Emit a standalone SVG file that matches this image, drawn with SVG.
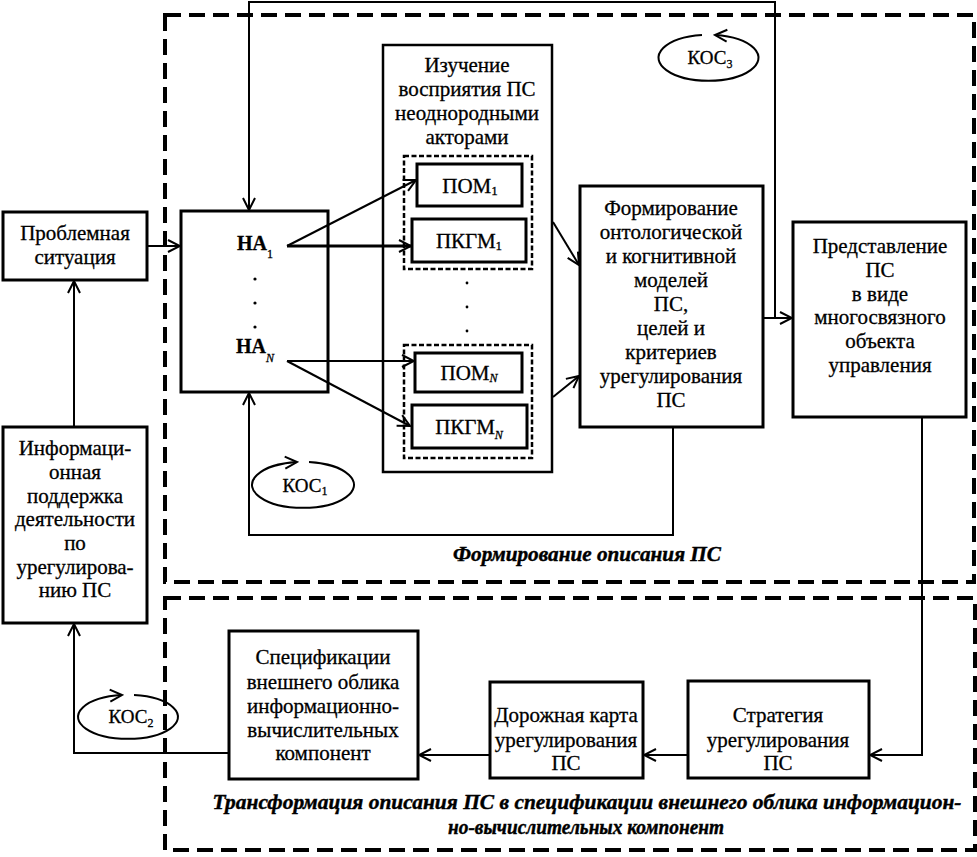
<svg xmlns="http://www.w3.org/2000/svg" width="977" height="857" viewBox="0 0 977 857">
<style>
.box{fill:#fff;stroke:#000;stroke-width:3}
.t{font-family:'Liberation Serif','Times New Roman','DejaVu Serif',Times,serif;font-size:21px;text-anchor:middle;fill:#000;stroke:#000;stroke-width:0.3}
.k{font-family:'Liberation Serif','Times New Roman','DejaVu Serif',Times,serif;font-size:19px;text-anchor:middle;fill:#000;stroke:#000;stroke-width:0.3}
.ti{font-family:'Liberation Serif','Times New Roman','DejaVu Serif',Times,serif;font-size:20px;font-weight:bold;font-style:italic;text-anchor:middle;fill:#000;stroke:#000;stroke-width:0.4}
.c{fill:none;stroke:#000;stroke-width:2}
.dash{fill:none;stroke:#000;stroke-width:4;stroke-dasharray:16 8}
.idash{fill:none;stroke:#000;stroke-width:2.5;stroke-dasharray:5 2.5}
</style>
<defs>
<marker id="a" markerUnits="userSpaceOnUse" markerWidth="16" markerHeight="16" viewBox="0 0 16 16" refX="14" refY="8" orient="auto">
<path d="M2,2 L14,8 L2,14" fill="none" stroke="#000" stroke-width="2"/>
</marker>
</defs>
<rect width="977" height="857" fill="#fff"/>
<g id="frames">
<rect class="dash" x="165" y="15" width="809" height="567"/>
<rect class="dash" x="165" y="598" width="810" height="252"/>
</g>
<g id="study">
<rect class="box" style="stroke-width:2.5" x="383" y="45" width="169" height="427"/>
<text class="t" x="467" y="72">Изучение</text>
<text class="t" x="467" y="96">восприятия ПС</text>
<text class="t" x="467" y="120">неоднородными</text>
<text class="t" x="467" y="144">акторами</text>
<rect class="idash" x="404" y="156" width="128" height="113"/>
<rect class="idash" x="404" y="345" width="128" height="113"/>
<circle cx="467" cy="283" r="1.4"/>
<circle cx="467" cy="307" r="1.4"/>
<circle cx="467" cy="331" r="1.4"/>
</g>
<g id="connectors">
<path class="c" d="M147,246 H180" marker-end="url(#a)"/>
<path class="c" d="M775,318 V2 H249 V210" marker-end="url(#a)"/>
<path class="c" d="M673,427 V535 H249 V393" marker-end="url(#a)"/>
<path class="c" d="M287,246 L416,180" marker-end="url(#a)"/>
<path class="c" style="stroke-width:3" d="M287,246 H411" marker-end="url(#a)"/>
<path class="c" d="M287,361 H414" marker-end="url(#a)"/>
<path class="c" d="M287,361 L410,426" marker-end="url(#a)"/>
<path class="c" d="M553,222 L579,265" marker-end="url(#a)"/>
<path class="c" d="M553,397 L579,376" marker-end="url(#a)"/>
<path class="c" d="M763,318 H792" marker-end="url(#a)"/>
<path class="c" d="M922,417 V755 H870" marker-end="url(#a)"/>
<path class="c" d="M688,755 H644" marker-end="url(#a)"/>
<path class="c" d="M490,755 H419" marker-end="url(#a)"/>
<path class="c" d="M229,753 H74 V624" marker-end="url(#a)"/>
<path class="c" d="M74,427 V281" marker-end="url(#a)"/>
<path class="c" d="M309,462 A51,23 0 1 1 297,462" marker-end="url(#a)"/>
<path class="c" d="M702,35 A50,23 0 1 0 715,35" marker-end="url(#a)"/>
<path class="c" d="M134,695 A50,22 0 1 1 122,695" marker-end="url(#a)"/>
</g>
<g id="koc">
<text class="k" x="305" y="492">КОС<tspan font-size="12" dy="3">1</tspan></text>
<text class="k" x="710" y="64">КОС<tspan font-size="12" dy="4">3</tspan></text>
<text class="k" x="131" y="723">КОС<tspan font-size="12" dy="4">2</tspan></text>
</g>
<g id="problem">
<rect class="box" x="3" y="212" width="144" height="68"/>
<text class="t" x="75" y="240">Проблемная</text>
<text class="t" x="75" y="264">ситуация</text>
</g>
<g id="info">
<rect class="box" x="3" y="427" width="144" height="196"/>
<text class="t" x="75" y="455">Информаци-</text>
<text class="t" x="75" y="479">онная</text>
<text class="t" x="75" y="503">поддержка</text>
<text class="t" x="75" y="526">деятельности</text>
<text class="t" x="75" y="550">по</text>
<text class="t" x="75" y="574">урегулирова-</text>
<text class="t" x="75" y="597">нию ПС</text>
</g>
<g id="na">
<rect class="box" x="181" y="211" width="147" height="181" style="fill:none"/>
<text class="t" style="text-anchor:start;font-weight:bold;font-size:20px" x="237" y="250">НА<tspan font-size="12" font-weight="normal" dy="8">1</tspan></text>
<text class="t" style="text-anchor:start;font-weight:bold;font-size:20px" x="236" y="353">НА<tspan font-size="12" font-weight="normal" font-style="italic" dy="9">N</tspan></text>
<circle cx="255" cy="279" r="1.6"/>
<circle cx="255" cy="303" r="1.6"/>
<circle cx="255" cy="327" r="1.6"/>
</g>
<g id="pom1">
<rect class="box" x="417" y="164" width="105" height="42"/>
<text class="t" x="470" y="193">ПОМ<tspan font-size="13" dy="2">1</tspan></text>
</g>
<g id="pkgm1">
<rect class="box" x="412" y="219" width="114" height="43"/>
<text class="t" x="469" y="248">ПКГМ<tspan font-size="13" dy="2">1</tspan></text>
</g>
<g id="pomN">
<rect class="box" x="415" y="353" width="107" height="39"/>
<text class="t" x="469" y="380">ПОМ<tspan font-size="12" font-style="italic" dy="2">N</tspan></text>
</g>
<g id="pkgmN">
<rect class="box" x="412" y="405" width="115" height="43"/>
<text class="t" x="469" y="434">ПКГМ<tspan font-size="12" font-style="italic" dy="5">N</tspan></text>
</g>
<g id="form">
<rect class="box" x="580" y="186" width="183" height="241"/>
<text class="t" x="671" y="215">Формирование</text>
<text class="t" x="671" y="239">онтологической</text>
<text class="t" x="671" y="263">и когнитивной</text>
<text class="t" x="671" y="287">моделей</text>
<text class="t" x="671" y="311">ПС,</text>
<text class="t" x="671" y="335">целей и</text>
<text class="t" x="671" y="359">критериев</text>
<text class="t" x="671" y="383">урегулирования</text>
<text class="t" x="671" y="407">ПС</text>
</g>
<g id="repr">
<rect class="box" x="793" y="222" width="173" height="195"/>
<text class="t" x="880" y="253">Представление</text>
<text class="t" x="880" y="277">ПС</text>
<text class="t" x="880" y="301">в виде</text>
<text class="t" x="880" y="324">многосвязного</text>
<text class="t" x="880" y="348">объекта</text>
<text class="t" x="880" y="372">управления</text>
</g>
<g id="spec">
<rect class="box" x="229" y="631" width="189" height="148"/>
<text class="t" x="323" y="664">Спецификации</text>
<text class="t" x="323" y="689">внешнего облика</text>
<text class="t" x="323" y="713">информационно-</text>
<text class="t" x="323" y="737">вычислительных</text>
<text class="t" x="323" y="760">компонент</text>
</g>
<g id="road">
<rect class="box" x="490" y="682" width="153" height="96"/>
<text class="t" x="566" y="722">Дорожная карта</text>
<text class="t" x="566" y="747">урегулирования</text>
<text class="t" x="566" y="770">ПС</text>
</g>
<g id="strat">
<rect class="box" x="688" y="681" width="181" height="97"/>
<text class="t" x="778" y="722">Стратегия</text>
<text class="t" x="778" y="747">урегулирования</text>
<text class="t" x="778" y="770">ПС</text>
</g>
<g id="titles">
<text class="ti" x="587" y="561" textLength="268" lengthAdjust="spacingAndGlyphs">Формирование описания ПС</text>
<text class="ti" x="587" y="809" textLength="749" lengthAdjust="spacingAndGlyphs">Трансформация описания ПС в спецификации внешнего облика информацион-</text>
<text class="ti" x="586" y="834" textLength="276" lengthAdjust="spacingAndGlyphs">но-вычислительных компонент</text>
</g>
</svg>
